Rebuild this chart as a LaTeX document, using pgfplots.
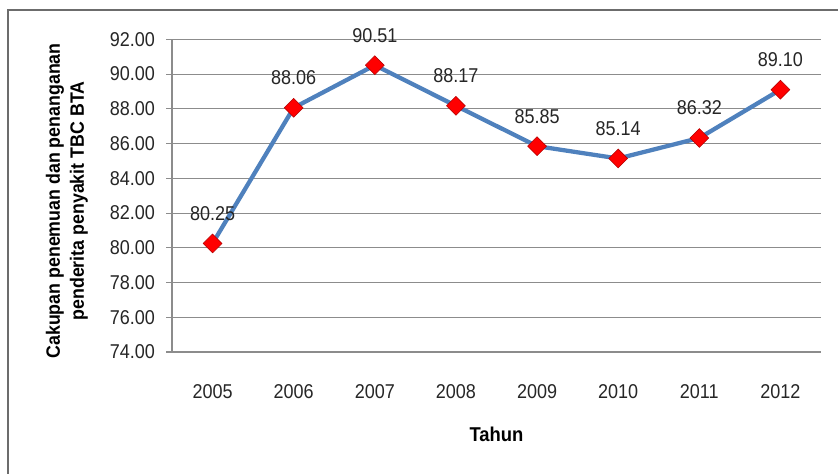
\documentclass[border=0pt]{standalone}
\usepackage{fontspec}
\setmainfont{Liberation Sans}
\newfontfamily\narrowfont[FakeStretch=0.9]{Liberation Sans}
\newfontfamily\narrowbold[FakeStretch=0.92]{Liberation Sans Bold}
\usepackage{pgfplots}
\pgfplotsset{compat=1.18}
\definecolor{lineblue}{HTML}{4F81BD}
\definecolor{gridgray}{HTML}{8C8C8C}
\begin{document}
\begin{tikzpicture}
\path[use as bounding box] (0pt,0pt) rectangle (628.5pt,355.5pt);
\draw[gray!85!black, line width=1.5pt] (6pt,0pt) -- (6pt,348pt) -- (628.5pt,348pt);
\begin{axis}[
  at={(129pt,91.5pt)}, anchor=south west,
  scale only axis, width=486.75pt, height=234.5pt,
  xmin=-0.5, xmax=7.5, ymin=74, ymax=92,
  ytick={74,76,...,92},
  xtick={0,...,7},
  xticklabels={2005,2006,2007,2008,2009,2010,2011,2012},
  major x tick style={draw=none},
  extra x ticks={-0.5,0.5,...,7.5},
  extra x tick labels={},
  extra x tick style={grid=none, tick style={draw=gridgray, line width=0.8pt}},
  axis x line*=bottom, axis y line*=left,
  axis line style={draw=gridgray, line width=0.8pt, -},
  tick align=outside, major tick length=4.5pt,
  ytick style={draw=gridgray, line width=0.8pt},
  ymajorgrids, grid style={draw=gridgray, line width=0.8pt},
  /pgf/number format/assume math mode=true,
  yticklabel={\pgfmathprintnumber[fixed,fixed zerofill,precision=2]{\tick}},
  ticklabel style={font=\narrowfont\fontsize{15}{17}\selectfont, text=black!85},
  yticklabel style={xshift=-4.75pt},
  xticklabel style={anchor=base, yshift=-30pt},
  ylabel={Cakupan penemuan dan penanganan\\penderita penyakit TBC BTA},
  ylabel style={font=\narrowbold\fontsize{14.5}{18}\selectfont, align=center, at={(axis description cs:-0.1618,0.483)}, anchor=center, rotate=0},
  xlabel={Tahun},
  xlabel style={font=\narrowbold\fontsize{15}{17}\selectfont, at={(axis description cs:0.5,0)}, anchor=center, yshift=-62pt},
  clip=false,
  nodes near coords={\pgfmathprintnumber[fixed,fixed zerofill,precision=2]{\pgfplotspointmeta}},
  nodes near coords style={font=\narrowfont\fontsize{15}{17}\selectfont, text=black!85, anchor=center, yshift=22.5pt},
]
\addplot[lineblue, line width=3.2pt, mark=square*, mark size=5pt,
  mark options={fill=red, draw=red!70!black, line width=0.4pt, rotate=45}]
  coordinates {(0,80.25) (1,88.06) (2,90.51) (3,88.17) (4,85.85) (5,85.14) (6,86.32) (7,89.10)};
\end{axis}
\end{tikzpicture}
\end{document}
